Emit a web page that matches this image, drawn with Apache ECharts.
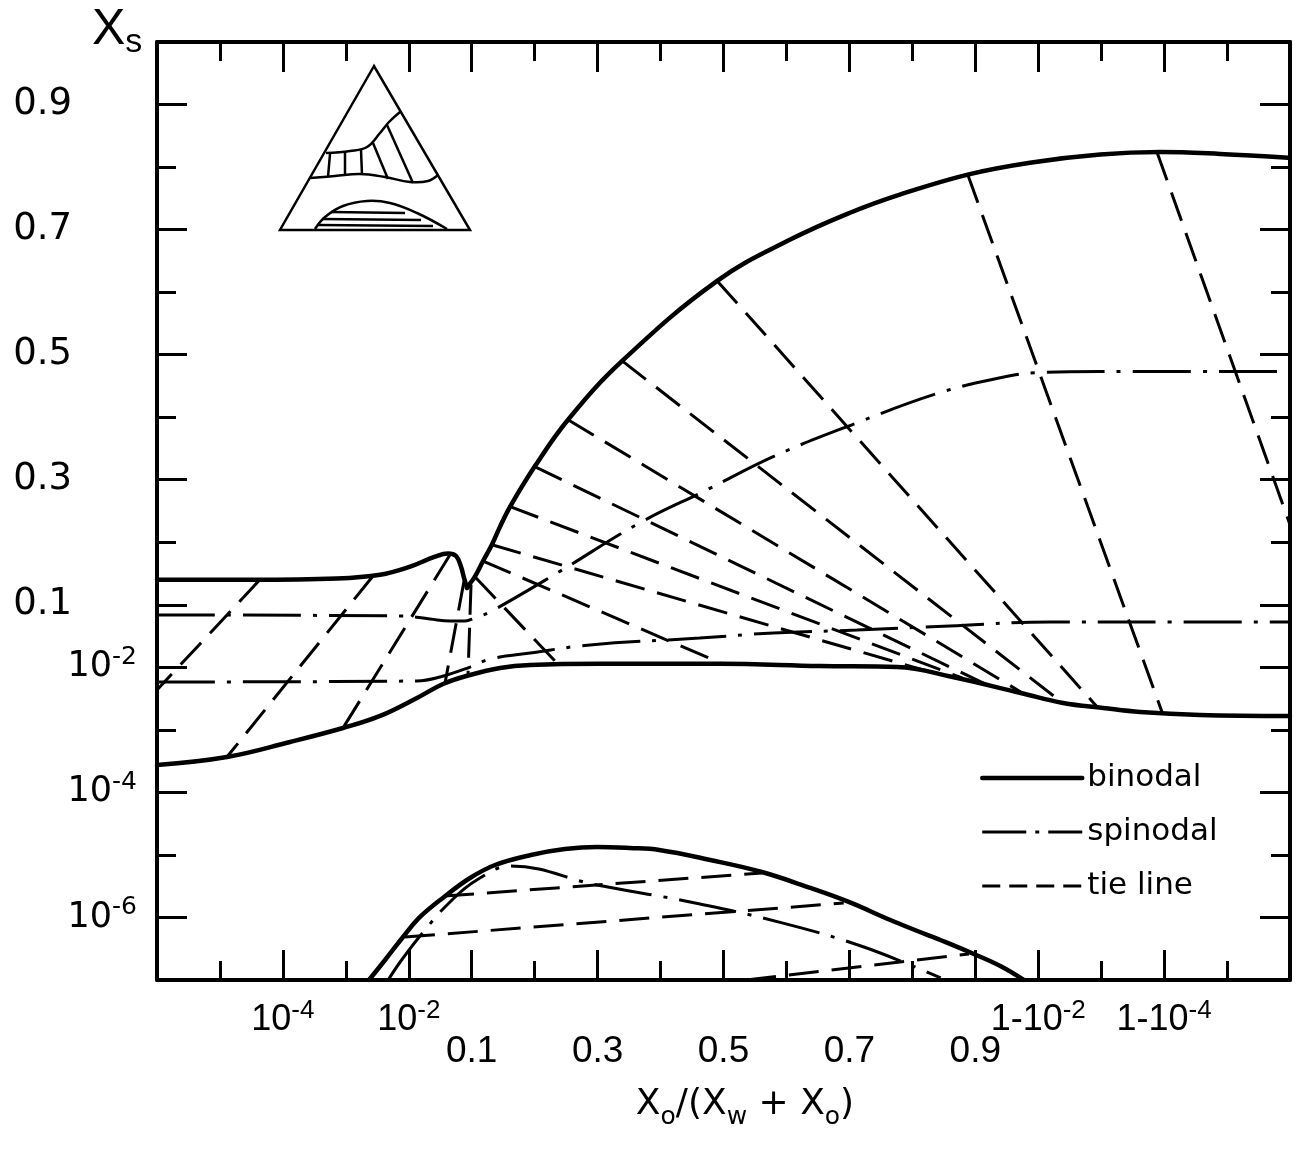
<!DOCTYPE html>
<html>
<head>
<meta charset="utf-8">
<title>Xs vs Xo/(Xw+Xo)</title>
<script src="https://cdn.jsdelivr.net/npm/echarts@6/dist/echarts.min.js"></script>
<style>
  html, body { margin: 0; padding: 0; background: #fff; }
  #main { width: 1303px; height: 1149px; }
</style>
</head>
<body>
<div id="main"></div>
<script>
// x = Xo/(Xw+Xo), y = Xs
const xTickValues = [1e-4, 1e-2, 0.1, 0.3, 0.5, 0.7, 0.9, 1 - 1e-2, 1 - 1e-4];
const xTickLabels = ["10^-4", "10^-2", "0.1", "0.3", "0.5", "0.7", "0.9", "1-10^-2", "1-10^-4"];
const yTickValues = [1e-6, 1e-4, 1e-2, 0.1, 0.3, 0.5, 0.7, 0.9];
const yTickLabels = ["10^-6", "10^-4", "10^-2", "0.1", "0.3", "0.5", "0.7", "0.9"];

// binodal, upper branch left of the cusp
const binodalHump = [
  [1e-6, 0.140], [3.0e-5, 0.140], [7.2e-4, 0.142], [3.5e-3, 0.148], [0.0105, 0.161],
  [0.0261, 0.177], [0.042, 0.182], [0.0564, 0.178], [0.0676, 0.161], [0.0755, 0.143], [0.0841, 0.127]
];
// binodal, upper branch right of the cusp
const binodalUpper = [
  [0.0841, 0.127], [0.094, 0.134], [0.105, 0.145], [0.118, 0.170], [0.132, 0.196], [0.145, 0.225],
  [0.161, 0.257], [0.200, 0.321], [0.253, 0.396], [0.339, 0.490], [0.490, 0.618], [0.606, 0.684],
  [0.701, 0.727], [0.780, 0.756], [0.888, 0.788], [0.9865, 0.807], [0.99896, 0.820],
  [0.999884, 0.824], [0.9999871, 0.821], [0.99999893, 0.815]
];
const binodalLower = [
  [1e-6, 2.74e-4], [1.29e-5, 3.68e-4], [1.3e-4, 6.4e-4], [9.0e-4, 1.07e-3], [3.5e-3, 1.67e-3],
  [0.0135, 3.24e-3], [0.035, 5.42e-3], [0.094, 7.55e-3], [0.145, 9.77e-3], [0.193, 0.0109],
  [0.304, 0.0114], [0.494, 0.0114], [0.653, 0.0105], [0.776, 0.0101], [0.864, 7.0e-3],
  [0.981, 3.89e-3], [0.99597, 2.69e-3], [0.99907, 2.24e-3], [0.99976, 1.93e-3],
  [0.999973, 1.73e-3], [0.999999, 1.67e-3]
];
const binodalLow = [
  [2.33e-3, 1e-7], [4.2e-3, 2.09e-7], [8.1e-3, 4.87e-7], [0.0151, 1.02e-6], [0.0363, 2.13e-6],
  [0.094, 4.28e-6], [0.137, 6.9e-6], [0.194, 9.97e-6], [0.248, 1.24e-5], [0.299, 1.34e-5],
  [0.351, 1.29e-5], [0.398, 1.2e-5], [0.479, 8.3e-6], [0.561, 5.33e-6], [0.638, 2.96e-6],
  [0.699, 1.77e-6], [0.765, 9.1e-7], [0.804, 6.3e-7], [0.852, 4.06e-7], [0.894, 2.7e-7],
  [0.960, 1.67e-7], [0.983, 1e-7]
];

const spinodalUpper = [
  [1e-6, 0.0687], [7.3e-3, 0.0663], [0.0217, 0.0593], [0.0452, 0.0551], [0.0782, 0.0551],
  [0.105, 0.0615], [0.129, 0.0767], [0.236, 0.151], [0.367, 0.231], [0.474, 0.284],
  [0.579, 0.337], [0.712, 0.391], [0.843, 0.439], [0.960, 0.463], [0.9888, 0.471],
  [0.99896, 0.473], [0.999999, 0.473]
];
const spinodalLower = [
  [1e-6, 5.83e-3], [0.0135, 6.05e-3], [0.0313, 7.01e-3], [0.094, 0.0101], [0.129, 0.0136],
  [0.193, 0.0169], [0.288, 0.0228], [0.462, 0.0294], [0.579, 0.0354], [0.712, 0.0395],
  [0.859, 0.0458], [0.9935, 0.0531], [0.999833, 0.0531], [0.999999, 0.0531]
];
const spinodalLow = [
  [4.7e-3, 1e-7], [7.3e-3, 1.94e-7], [0.0151, 5.06e-7], [0.0452, 1.77e-6], [0.113, 4.28e-6],
  [0.162, 6.65e-6], [0.299, 3.3e-6], [0.447, 1.77e-6], [0.593, 8.2e-7], [0.723, 3.37e-7],
  [0.845, 1.08e-7]
];

const tieLinesLeft = [
  [[4.3e-5, 0.140], [1e-6, 4.35e-3]],
  [[2.7e-3, 0.146], [1.29e-5, 3.68e-4]],
  [[0.0452, 0.180], [9.0e-4, 1.07e-3]],
  [[0.0755, 0.138], [0.0377, 5.6e-3]],
  [[0.0975, 0.132], [0.0873, 7.55e-3]]
];
const tieLinesFan = [
  [[0.105, 0.145], [0.236, 0.0115]],
  [[0.118, 0.170], [0.498, 0.0114]],
  [[0.132, 0.196], [0.828, 8.43e-3]],
  [[0.161, 0.257], [0.879, 6.76e-3]],
  [[0.200, 0.321], [0.930, 5.42e-3]],
  [[0.253, 0.396], [0.981, 4.04e-3]],
  [[0.339, 0.490], [0.9955, 2.9e-3]],
  [[0.490, 0.618], [0.99888, 2.24e-3]],
  [[0.888, 0.788], [0.999892, 1.93e-3]],
  [[0.99987, 0.824], [0.999999, 0.228]]
];
const tieLinesLow = [
  [[8.7e-3, 4.87e-7], [0.691, 1.7e-6]],
  [[0.0363, 2.2e-6], [0.561, 5.14e-6]],
  [[0.536, 1e-7], [0.890, 2.61e-7]]
];

// axis scale: one decade (or 0.1 in the linear middle) per tick step
function fx(x) {
  if (x <= 0.1) return 6 + Math.log10(x);
  if (x <= 0.9) return 5 + (x - 0.1) * 10;
  return 12 - Math.log10(1 - x);
}
function fy(y) {
  if (y <= 0.1) return 7 + Math.log10(y);
  return 6 + (y - 0.1) * 10;
}
function toPlot(pts) {
  return pts.map(function (p) { return [fx(p[0]), fy(p[1])]; });
}
function key(v) { return Math.round(v * 1000) / 1000; }
function richLabel(s) {
  var k = s.indexOf("^");
  if (k < 0) return "{d|" + s + "}";
  return "{b|" + s.slice(0, k) + "}{sup|" + s.slice(k + 1) + "}";
}

var xMajor = [], xUpper = [], xLower = [], xText = {};
xTickValues.forEach(function (v, i) {
  var p = key(fx(v));
  xMajor.push(p);
  xText[p] = richLabel(xTickLabels[i]);
  (xTickLabels[i].indexOf("^") >= 0 ? xUpper : xLower).push(p);
});
var yMajor = [], yPow = [], yDec = [], yText = {};
yTickValues.forEach(function (v, i) {
  var p = key(fy(v));
  yMajor.push(p);
  yText[p] = richLabel(yTickLabels[i]);
  (yTickLabels[i].indexOf("^") >= 0 ? yPow : yDec).push(p);
});

var FONT = "DejaVu Sans";
var XFONT = "Liberation Sans";
var black = "#000";
var xRich = {
  b: { fontFamily: XFONT, fontSize: 36, lineHeight: 44, color: black },
  sup: { fontFamily: XFONT, fontSize: 26, lineHeight: 22, verticalAlign: "top", color: black },
  d: { fontFamily: XFONT, fontSize: 37, lineHeight: 44, color: black }
};
var yRich = {
  b: { fontFamily: FONT, fontSize: 35, lineHeight: 44, color: black },
  sup: { fontFamily: FONT, fontSize: 25, lineHeight: 22, verticalAlign: "top", color: black },
  d: { fontFamily: FONT, fontSize: 37, lineHeight: 44, color: black }
};
var tickStyle = { color: black, width: 3 };
var frameLine = { show: true, onZero: false, lineStyle: { color: black, width: 4 } };

function xAxisOf(pos, major, labels, margin) {
  return {
    type: "value", position: pos, min: 0, max: 18, interval: 1,
    axisLine: major ? frameLine : { show: false, onZero: false },
    axisTick: major
      ? { show: true, inside: true, length: 30, customValues: xMajor, lineStyle: tickStyle }
      : { show: true, inside: true, length: 19, lineStyle: tickStyle },
    axisLabel: labels
      ? { show: true, customValues: labels, margin: margin, rich: xRich,
          formatter: function (v) { return xText[key(v)] || ""; } }
      : { show: false },
    splitLine: { show: false }
  };
}
function yAxisOf(pos, major, labels, margin) {
  return {
    type: "value", position: pos, min: 0, max: 15, interval: 1,
    axisLine: major ? frameLine : { show: false, onZero: false },
    axisTick: major
      ? { show: true, inside: true, length: 30, customValues: yMajor, lineStyle: tickStyle }
      : { show: true, inside: true, length: 19, lineStyle: tickStyle },
    axisLabel: labels
      ? { show: true, customValues: labels, margin: margin, rich: yRich,
          formatter: function (v) { return yText[key(v)] || ""; } }
      : { show: false },
    splitLine: { show: false }
  };
}

var solid = { color: black, width: 4.5, cap: "round", join: "round" };
var dashDot = { color: black, width: 3, type: [58, 12, 4, 12] };
var dashed = { color: black, width: 3, type: [30, 13] };

var series = [];
function addLine(name, pts, style, z) {
  series.push({
    name: name, type: "line", data: toPlot(pts),
    symbol: "none", showSymbol: false,
    smooth: pts.length > 2 ? 0.4 : false,
    lineStyle: style, silent: true, clip: true, z: z
  });
}
addLine("binodal", binodalHump, solid, 5);
addLine("binodal", binodalUpper, solid, 5);
addLine("binodal", binodalLower, solid, 5);
addLine("binodal", binodalLow, solid, 5);
addLine("spinodal", spinodalUpper, dashDot, 4);
addLine("spinodal", spinodalLower, dashDot, 4);
addLine("spinodal", spinodalLow, dashDot, 4);
tieLinesLeft.concat(tieLinesFan, tieLinesLow).forEach(function (t) {
  addLine("tie line", t, dashed, 3);
});

var thin = { fill: "none", stroke: black, lineWidth: 2.5 };
function pl(points, smooth) {
  return { type: "polyline", shape: { points: points, smooth: smooth || 0 }, style: thin };
}

var chart = echarts.init(document.getElementById("main"));
chart.setOption({
  animation: false,
  backgroundColor: "#fff",
  grid: { left: 157, right: 13, top: 42, bottom: 169, containLabel: false, outerBoundsMode: "none" },
  xAxis: [
    xAxisOf("bottom", true, xUpper, 18),
    xAxisOf("bottom", false, xLower, 50),
    xAxisOf("top", true, null),
    xAxisOf("top", false, null)
  ],
  yAxis: [
    yAxisOf("left", true, yPow, 20),
    yAxisOf("left", false, yDec, 85),
    yAxisOf("right", true, null),
    yAxisOf("right", false, null)
  ],
  legend: {
    orient: "vertical", left: 975, top: 753,
    itemWidth: 100, itemHeight: 40, itemGap: 14,
    selectedMode: false,
    itemStyle: { opacity: 0 },
    textStyle: { fontFamily: FONT, fontSize: 31, lineHeight: 40, color: black },
    data: [
      { name: "binodal", lineStyle: { width: 4.5, type: "solid" } },
      { name: "spinodal", lineStyle: { width: 3, type: [44, 9, 4, 9] } },
      { name: "tie line", lineStyle: { width: 3, type: [18, 9] } }
    ]
  },
  graphic: [
    // phase-diagram inset
    { type: "polygon", shape: { points: [[374, 66], [280, 230], [470, 230]] }, style: thin },
    pl([[326, 153], [350, 151], [367, 147], [380, 133], [389, 122], [400, 112]], 0.4),
    pl([[310, 178], [335, 176], [360, 174], [385, 177], [410, 182], [428, 181], [438, 175]], 0.4),
    pl([[330, 154], [328, 177]]),
    pl([[345, 152], [345, 176]]),
    pl([[361, 150], [362, 175]]),
    pl([[373, 143], [388, 179]]),
    pl([[387, 125], [413, 183]]),
    pl([[315, 229], [325, 217], [343, 206], [367, 201], [390, 203], [417, 213], [447, 229]], 0.4),
    pl([[331, 212], [405, 213]]),
    pl([[322, 219], [421, 220]]),
    pl([[318, 225], [433, 226]]),
    {
      type: "text", x: 92, y: 0,
      style: {
        text: "{b|X}{s|s}", fill: black,
        rich: {
          b: { fontFamily: XFONT, fontSize: 50, lineHeight: 60, fill: black },
          s: { fontFamily: XFONT, fontSize: 34, lineHeight: 16, verticalAlign: "bottom", fill: black }
        }
      }
    },
    {
      type: "text", x: 745, y: 1080,
      style: {
        text: "{b|X}{s|o}{b|/(X}{s|w}{b| + X}{s|o}{b|)}", align: "center", fill: black,
        rich: {
          b: { fontFamily: FONT, fontSize: 36, lineHeight: 50, fill: black },
          s: { fontFamily: FONT, fontSize: 25, lineHeight: 12, verticalAlign: "bottom", fill: black }
        }
      }
    }
  ],
  series: series
});
</script>
</body>
</html>
